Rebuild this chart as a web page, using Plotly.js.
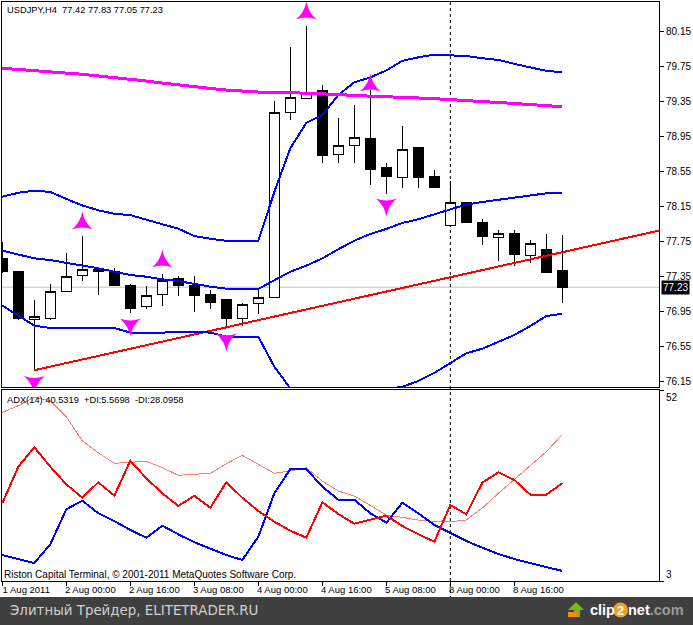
<!DOCTYPE html>
<html>
<head>
<meta charset="utf-8">
<script src="https://cdn.plot.ly/plotly-3.0.1.min.js"></script>
<style>
html, body { margin: 0; padding: 0; background: #fff; overflow: hidden; }
/* the terminal draws aliased lines */
.scatterlayer .js-line, .boxlayer path { shape-rendering: crispEdges; }
</style>
</head>
<body>
<div id="myDiv" style="width:693px;height:625px"></div>
<script>
// bar number, one per 4h candle
var bars = [0,1,2,3,4,5,6,7,8,9,10,11,12,13,14,15,16,17,18,19,20,21,22,23,24,25,26,27,28,29,30,31,32,33,34,35];

var open  = [77.56,77.41,76.86,76.87,77.18,77.36,77.43,77.41,77.255,77.01,77.145,77.325,77.245,77.15,77.085,76.87,77.04,77.11,79.23,79.39,79.475,78.745,78.85,78.935,78.595,78.485,78.825,78.50,77.94,78.195,77.97,77.80,77.84,77.59,77.665,77.42];
var high  = [77.75,77.42,77.08,77.27,77.62,77.82,77.435,77.45,77.265,77.245,77.38,77.36,77.36,77.20,77.085,77.045,77.20,79.36,79.98,80.22,79.54,79.165,79.315,79.485,78.65,79.075,78.825,78.57,78.445,78.20,78.01,77.89,77.89,77.77,77.84,77.83];
var low   = [77.39,76.85,76.28,76.85,77.17,77.30,77.14,77.245,76.94,76.98,77.015,77.13,76.95,76.98,76.76,76.785,76.925,77.11,79.14,79.39,78.655,78.655,78.655,78.40,78.30,78.36,78.36,78.36,77.94,77.97,77.715,77.535,77.475,77.51,77.395,77.05];
var close = [77.415,76.87,76.89,77.18,77.355,77.435,77.41,77.255,76.99,77.14,77.31,77.245,77.13,77.06,76.87,77.035,77.115,79.23,79.40,79.46,78.735,78.855,78.945,78.575,78.495,78.81,78.485,78.37,78.20,77.97,77.81,77.845,77.60,77.73,77.395,77.23];

var bandUpper = [78.265,78.31,78.335,78.32,78.24,78.165,78.11,78.07,78.055,78.0,77.95,77.90,77.815,77.785,77.76,77.76,77.76,78.32,78.82,79.11,79.20,79.43,79.575,79.63,79.71,79.82,79.86,79.89,79.885,79.875,79.85,79.83,79.785,79.745,79.705,79.69];
var bandMiddle = [77.648,77.606,77.56,77.54,77.51,77.476,77.446,77.407,77.37,77.35,77.32,77.30,77.267,77.236,77.213,77.21,77.21,77.31,77.407,77.476,77.56,77.664,77.762,77.839,77.896,77.965,78.007,78.064,78.121,78.176,78.205,78.228,78.25,78.277,78.304,78.31];
var bandLower = [77.02,76.91,76.79,76.763,76.763,76.763,76.763,76.763,76.71,76.71,76.71,76.72,76.72,76.71,76.664,76.664,76.664,76.32,76.073,75.825,75.77,75.825,75.88,76.03,76.065,76.09,76.157,76.25,76.366,76.474,76.526,76.606,76.683,76.786,76.90,76.927];
var slowAverage = [79.735,79.721,79.712,79.698,79.681,79.666,79.647,79.629,79.606,79.589,79.566,79.544,79.521,79.504,79.486,79.475,79.463,79.463,79.458,79.452,79.446,79.435,79.423,79.418,79.412,79.406,79.395,79.387,79.378,79.366,79.355,79.343,79.332,79.32,79.309,79.295];

var trendBars = [2, 41.1];
var trendPrices = [76.28, 77.88];

var fractalUpBars = [5, 10, 19, 23];
var fractalUpPrices = [77.959, 77.524, 80.362, 79.538];
var fractalDownBars = [2, 8, 14, 24];
var fractalDownPrices = [76.145, 76.803, 76.632, 78.176];

var plusDI  = [9.67,8.64,7.62,12.42,21.39,23.6,20.37,18.39,16.08,14.11,17.19,14.98,12.93,11.29,9.67,8.39,14.36,25.5,31.73,31.73,27.19,23.86,23.86,20.37,17.96,23.09,20.37,17.37,15.24,13.26,11.54,9.93,8.64,7.69,6.59,5.57];
var minusDI = [22.93,32.32,37.3,32.32,27.81,24.37,28.32,24.88,33.86,29.35,25.5,22.24,24.88,21.8,28.32,24.37,20.96,18.21,15.9,14.11,23.19,20.19,17.7,18.65,19.75,17.11,14.98,13.08,22.5,20.11,28.22,30.89,28.91,25.14,25.14,28.1];
var adx     = [46.28,47.97,50.13,49.25,45.15,38.92,35.91,33.19,33.45,33.71,32.07,30.12,30.37,30.63,33.09,35.25,32.94,30.63,31.22,32.07,28.65,26.09,24.81,22.32,19.93,19.34,18.65,18.21,18.21,18.65,21.73,25.5,29.09,32.76,36.17,40.53];

var priceTicks = [76.15,76.55,76.95,77.35,77.75,78.15,78.55,78.95,79.35,79.75,80.15];
var timeTicks = [0,4,8,12,16,20,24,28,32];
var timeLabels = ['1 Aug 2011','2 Aug 00:00','2 Aug 16:00','3 Aug 08:00','4 Aug 00:00','4 Aug 16:00','5 Aug 08:00','8 Aug 00:00','8 Aug 16:00'];
var lastPrice = 77.23;
var cursorBar = 28;

var textFont = {family: 'Liberation Sans', size: 10, color: '#000'};
var legendFont = {family: 'Liberation Sans', size: 9.3, color: '#000'};

function px(x) { return x / 693; }
function py(y) { return 1 - y / 625; }

function line(y, color, width, axis) {
	return {x: bars, y: y, type: 'scatter', mode: 'lines', xaxis: axis ? 'x2' : 'x', yaxis: axis ? 'y2' : 'y',
		line: {color: color, width: width}, hoverinfo: 'skip', showlegend: false};
}

function fractals(x, y, symbol) {
	return {x: x, y: y, type: 'scatter', mode: 'markers', hoverinfo: 'skip', showlegend: false,
		marker: {symbol: symbol, size: 15, color: '#ff00ff', line: {width: 0}}};
}

var traces = [
	{x: trendBars, y: trendPrices, type: 'scatter', mode: 'lines', line: {color: '#ff0000', width: 2}, hoverinfo: 'skip', showlegend: false},
	line(bandUpper, '#0000ff', 2),
	line(bandMiddle, '#0000ff', 2),
	line(bandLower, '#0000ff', 2),
	line(slowAverage, '#ff00ff', 3),
	{
		x: bars, open: open, high: high, low: low, close: close, type: 'candlestick', whiskerwidth: 0,
		increasing: {line: {color: '#000', width: 1}, fillcolor: '#fff'},
		decreasing: {line: {color: '#000', width: 1}, fillcolor: '#000'},
		hoverinfo: 'skip', showlegend: false
	},
	fractals(fractalUpBars, fractalUpPrices, 'star-triangle-up'),
	fractals(fractalDownBars, fractalDownPrices, 'star-triangle-down'),
	line(adx, '#fa8072', 1, true),
	line(plusDI, '#0000ff', 2, true),
	line(minusDI, '#ff0000', 2, true)
];

var layout = {
	width: 693, height: 625,
	margin: {l: 0, r: 0, t: 0, b: 0},
	paper_bgcolor: '#fff', plot_bgcolor: '#fff',
	showlegend: false, boxgap: 0.37, boxgroupgap: 0,
	xaxis: {
		domain: [px(2), px(659)], range: [-0.019, 41.04], anchor: 'y',
		rangeslider: {visible: false}, showgrid: false, zeroline: false,
		showline: true, mirror: true, linecolor: '#000', linewidth: 1,
		ticks: '', showticklabels: false
	},
	yaxis: {
		domain: [py(387), py(2)], range: [76.088, 80.493], anchor: 'x', side: 'right',
		showgrid: false, zeroline: false, showline: true, mirror: true, linecolor: '#000', linewidth: 1,
		tickmode: 'array', tickvals: priceTicks, ticktext: priceTicks.map(function (v) { return v.toFixed(2); }),
		ticks: 'outside', ticklen: 4, tickcolor: '#000', tickfont: textFont
	},
	xaxis2: {
		domain: [px(2), px(659)], range: [-0.019, 41.04], anchor: 'y2',
		showgrid: false, zeroline: false, showline: true, mirror: true, linecolor: '#000', linewidth: 1,
		tickmode: 'array', tickvals: timeTicks, ticktext: timeLabels,
		ticks: 'outside', ticklen: 4, tickcolor: '#000', tickangle: 0,
		tickfont: {family: 'Liberation Sans', size: 9.5, color: '#000'},
		ticklabelshift: 24, ticklabelstandoff: -4, ticklabeloverflow: 'allow'
	},
	yaxis2: {
		domain: [py(581), py(390)], range: [3, 52], anchor: 'x2', side: 'right',
		showgrid: false, zeroline: false, showline: true, mirror: true, linecolor: '#000', linewidth: 1,
		tickmode: 'array', tickvals: [3, 52], ticks: 'outside', ticklen: 4, tickcolor: '#000', showticklabels: false
	},
	shapes: [
		{type: 'line', xref: 'paper', yref: 'y', x0: px(2), x1: px(659), y0: lastPrice, y1: lastPrice, layer: 'below', line: {color: '#c0c0c0', width: 1}},
		{type: 'line', xref: 'x', yref: 'paper', x0: cursorBar, x1: cursorBar, y0: py(2), y1: py(597), layer: 'below', line: {color: '#000', width: 1, dash: '3px,3px'}},
		// footer strip and upload logo
		{type: 'rect', xref: 'paper', yref: 'paper', x0: 0, x1: 1, y0: 0, y1: py(597), line: {width: 0}, fillcolor: '#404040'},
		{type: 'path', xref: 'paper', yref: 'paper', fillcolor: '#7ab51d', line: {width: 0},
			path: 'M' + px(568) + ',' + py(610) + ' L' + px(576) + ',' + py(602) + ' L' + px(584) + ',' + py(610) + ' L' + px(580) + ',' + py(610) + ' L' + px(580) + ',' + py(617) + ' L' + px(574) + ',' + py(617) + ' L' + px(574) + ',' + py(610) + ' Z'},
		{type: 'rect', xref: 'paper', yref: 'paper', x0: px(568), x1: px(577), y0: py(617), y1: py(612), line: {width: 0}, fillcolor: '#f08a1d'},
		{type: 'circle', xref: 'paper', yref: 'paper', x0: px(613), x1: px(628), y0: py(617.5), y1: py(602.5), line: {width: 0}, fillcolor: '#f0a020'}
	],
	annotations: [
		{xref: 'paper', yref: 'paper', x: px(5), y: py(10), xanchor: 'left', yanchor: 'middle', showarrow: false, font: legendFont, text: 'USDJPY,H4  77.42 77.83 77.05 77.23'},
		{xref: 'paper', yref: 'paper', x: px(5), y: py(399.5), xanchor: 'left', yanchor: 'middle', showarrow: false, font: legendFont, text: 'ADX(14) 40.5319  +DI:5.5698  -DI:28.0958'},
		{xref: 'paper', yref: 'paper', x: px(2), y: py(574), xanchor: 'left', yanchor: 'middle', showarrow: false, font: textFont, text: 'Riston Capital Terminal, © 2001-2011 MetaQuotes Software Corp.'},
		{xref: 'paper', yref: 'y', x: px(661), y: lastPrice, xanchor: 'left', yanchor: 'middle', showarrow: false, bgcolor: '#000', borderpad: 1, font: {family: 'Liberation Sans', size: 10, color: '#fff'}, text: '77.23'},
		{xref: 'paper', yref: 'paper', x: px(664), y: py(397), xanchor: 'left', yanchor: 'middle', showarrow: false, font: textFont, text: '52'},
		{xref: 'paper', yref: 'paper', x: px(664), y: py(574.5), xanchor: 'left', yanchor: 'middle', showarrow: false, font: textFont, text: '3'},
		{xref: 'paper', yref: 'paper', x: px(8), y: py(610.5), xanchor: 'left', yanchor: 'middle', showarrow: false, font: {family: 'DejaVu Sans', size: 13.4, color: '#d0d0d0'}, text: 'Элитный Трейдер, ELITETRADER.RU'},
		{xref: 'paper', yref: 'paper', x: px(588), y: py(610), xanchor: 'left', yanchor: 'middle', showarrow: false, font: {family: 'Liberation Sans', size: 14.5, color: '#fff', weight: 700}, text: 'clip'},
		{xref: 'paper', yref: 'paper', x: px(620.5), y: py(610), xanchor: 'center', yanchor: 'middle', showarrow: false, font: {family: 'Liberation Sans', size: 13, color: '#fff', weight: 700}, text: '2'},
		{xref: 'paper', yref: 'paper', x: px(626), y: py(610), xanchor: 'left', yanchor: 'middle', showarrow: false, font: {family: 'Liberation Sans', size: 14.5, color: '#fff', weight: 700}, text: 'net<span style="color:#9a9a9a">.com</span>'}
	]
};

Plotly.newPlot('myDiv', traces, layout, {displayModeBar: false, staticPlot: true});
</script>
</body>
</html>
